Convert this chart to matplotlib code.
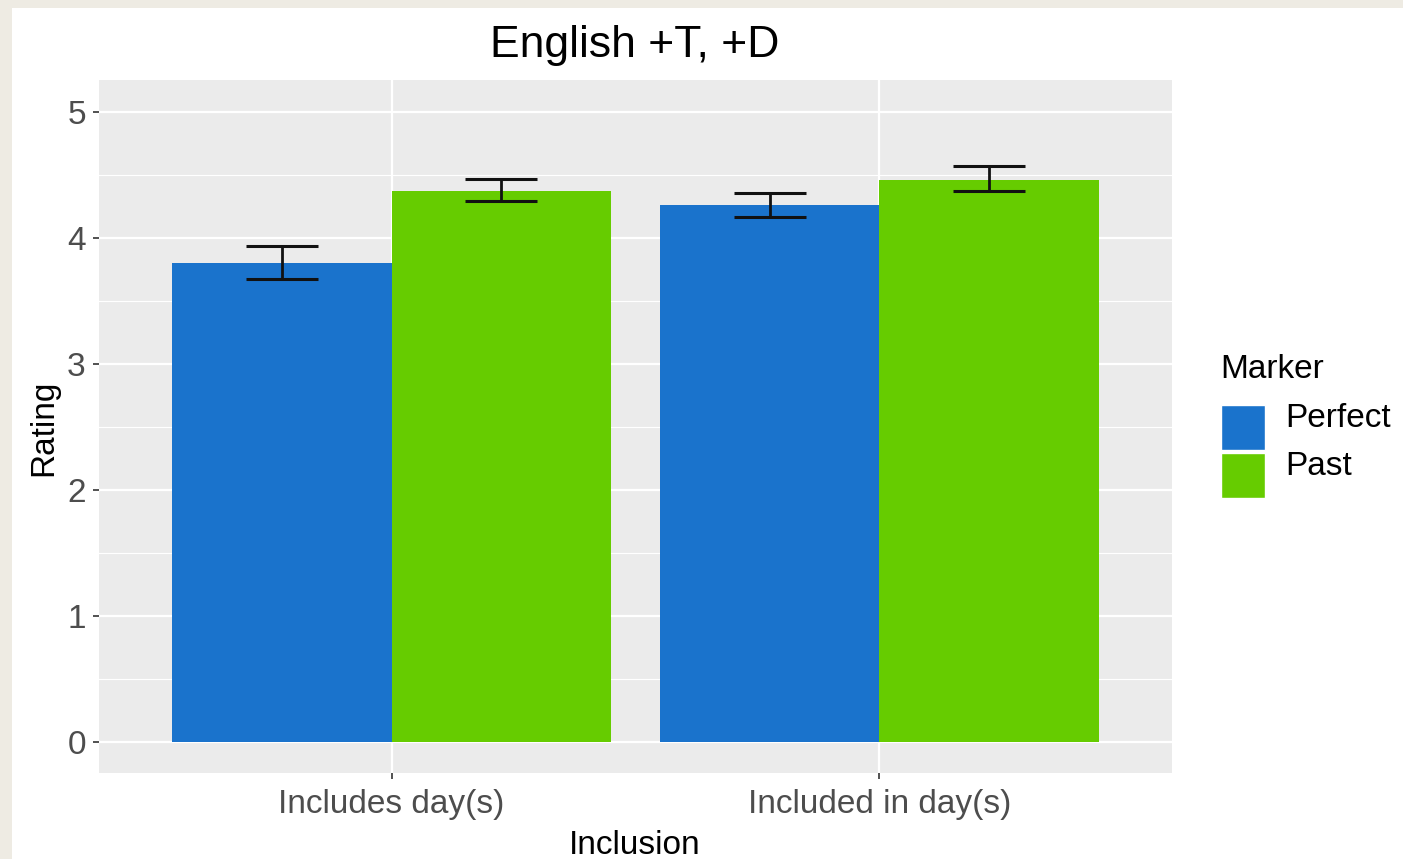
import matplotlib
matplotlib.use("Agg")
import matplotlib.pyplot as plt
from matplotlib.patches import Rectangle
import numpy as np

plt.rcParams['font.family'] = ['Liberation Sans', 'DejaVu Sans']

# data
groups = ["Includes day(s)", "Included in day(s)"]
markers = ["Perfect", "Past"]
colors = ["#1A73CC", "#66CC00"]
means = {"Perfect": [3.80, 4.26], "Past": [4.37, 4.46]}
err_lo = {"Perfect": [3.67, 4.16], "Past": [4.29, 4.37]}
err_hi = {"Perfect": [3.93, 4.35], "Past": [4.465, 4.57]}

W, H = 1403, 859
fig = plt.figure(figsize=(W / 100, H / 100), dpi=100)
fig.patch.set_facecolor("#EEEBE3")
# white page inside the cream frame
fig.patches.append(Rectangle((12 / W, 0), 1, (H - 8) / H, transform=fig.transFigure,
                             facecolor="white", edgecolor="none", zorder=-10))

left, right, top, bottom = 99, 1172, 80, 773
ax = fig.add_axes([left / W, (H - bottom) / H, (right - left) / W, (bottom - top) / H])
ax.set_facecolor("#EBEBEB")
ax.set_zorder(1)

x = np.arange(1, len(groups) + 1)
width = 0.45
for i, m in enumerate(markers):
    pos = x + (i - 0.5) * width
    ax.bar(pos, means[m], width=width, color=colors[i], label=m, zorder=2)
    lo = np.array(err_lo[m])
    hi = np.array(err_hi[m])
    mid = (lo + hi) / 2
    ax.errorbar(pos, mid, yerr=(hi - lo) / 2, fmt="none", ecolor="#111111",
                elinewidth=2.0, capsize=26, capthick=2.2, zorder=3)

ax.set_xlim(0.4, 2.6)
ax.set_ylim(-0.25, 5.25)
ax.set_xticks(x)
ax.set_xticklabels(groups)
ax.set_yticks(range(0, 6))
ax.set_yticks(np.arange(0.5, 5, 1), minor=True)
ax.grid(which="major", color="white", linewidth=1.6, zorder=1)
ax.grid(which="minor", axis="y", color="white", linewidth=0.8, zorder=1)
ax.set_axisbelow(True)
for s in ax.spines.values():
    s.set_visible(False)
ax.tick_params(axis="both", which="major", length=4.5, width=1.2, color="#333333",
               labelsize=24, labelcolor="#4D4D4D", pad=5)
ax.tick_params(axis="x", which="major", pad=7)
ax.tick_params(axis="both", which="minor", length=0)

fig.text(635 / W, (H - 57) / H, "English +T, +D", fontsize=32, ha="center",
         va="baseline", color="black")
fig.text(635 / W, (H - 854) / H, "Inclusion", fontsize=24, ha="center",
         va="baseline", color="black")
fig.text(44 / W, (H - 428) / H, "Rating", fontsize=24, rotation=90, ha="center",
         va="center", color="black")

# legend, drawn by hand to match the ggplot key layout
fig.text(1220 / W, (H - 378) / H, "Marker", fontsize=24, ha="left", va="baseline")
for i, m in enumerate(markers):
    ytop = 405 + i * 48
    fig.patches.append(Rectangle((1221 / W, (H - ytop - 45) / H), 44 / W, 45 / H,
                                 transform=fig.transFigure, facecolor=colors[i],
                                 edgecolor="white", linewidth=1, zorder=2))
    fig.text(1285 / W, (H - ytop - 22) / H, m, fontsize=24, ha="left",
             va="baseline", color="black")

fig.savefig("out.png", dpi=100, facecolor=fig.get_facecolor())
